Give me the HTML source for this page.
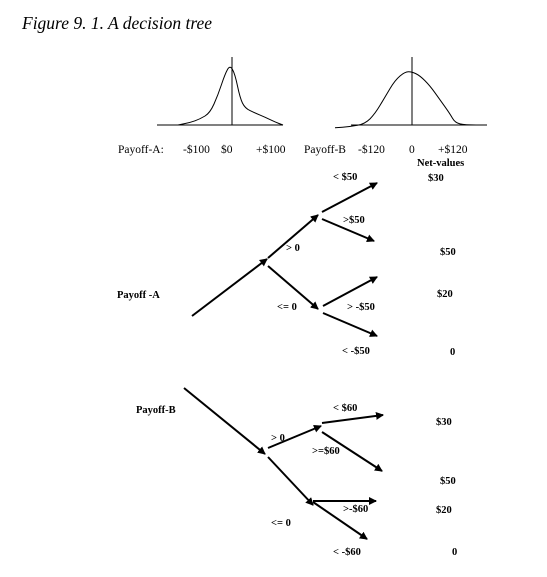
<!DOCTYPE html>
<html><head><meta charset="utf-8"><style>
body{margin:0;background:#fff;}
svg text{font-family:"Liberation Serif",serif;fill:#000;}
.b{font-weight:bold;font-size:10.5px;}
.r{font-size:11.5px;}
</style></head><body>
<svg id="chart" width="547" height="572" viewBox="0 0 547 572" xmlns="http://www.w3.org/2000/svg">
<defs><marker id="ah" markerWidth="8" markerHeight="8" refX="7" refY="4" orient="auto" markerUnits="userSpaceOnUse"><path d="M0,0 L8,4 L0,8 z" fill="#000"/></marker></defs>
<text x="22" y="29" font-size="17.5" font-style="italic">Figure 9. 1. A decision tree</text>
<g id="curves"></g>
<g id="tree" stroke="#000" stroke-width="2" fill="none"></g>
<g id="labels"></g>
</svg>
<script>
// Payoff distribution densities (relative heights)
const densA = [0,0.04,0.1,0.2,0.5,0.85,1.0,0.85,0.45,0.28,0.2,0.13,0.05,0];
const densAx = [178,190,200,210,218,225,230,235,240,245,255,265,275,283];
const densB = [-0.05,-0.03,0.02,0.2,0.5,0.8,0.95,0.95,0.88,0.7,0.45,0.2,0.04,0,0];
const densBx = [335,350,365,375,385,395,405,412,420,430,440,450,455,465,487];
const tickA = ["-$100","$0","+$100"];
const tickB = ["-$120","0","+$120"];
const outcomesA = ["< $50",">$50","> -$50","< -$50"];
const outcomesB = ["< $60",">=$60",">-$60","< -$60"];
const netA = ["$30","$50","$20","0"];
const netB = ["$30","$50","$20","0"];

const NS="http://www.w3.org/2000/svg";
const cv=document.getElementById('curves');
function mk(tag,attrs,parent){const e=document.createElementNS(NS,tag);for(const k in attrs)e.setAttribute(k,attrs[k]);parent.appendChild(e);return e;}
function yScale(v,h){return 125-v*h;}
function curve(xs,vs,h,name){
  let d="M"+xs[0]+","+yScale(vs[0],h);
  for(let i=1;i<xs.length;i++){const mx=(xs[i-1]+xs[i])/2;d+=" Q"+xs[i-1]+","+yScale(vs[i-1],h)+" "+mx+","+(yScale(vs[i-1],h)+yScale(vs[i],h))/2;}
  d+=" L"+xs[xs.length-1]+","+yScale(vs[vs.length-1],h);
  const p=mk('path',{d:d,stroke:'#000','stroke-width':1,fill:'none'},cv);
  
  
}
let a=mk('line',{x1:157,y1:125,x2:283,y2:125,stroke:'#000','stroke-width':1},cv);


a=mk('line',{x1:232,y1:57,x2:232,y2:125,stroke:'#000','stroke-width':1},cv);


a=mk('line',{x1:351,y1:125,x2:487,y2:125,stroke:'#000','stroke-width':1},cv);


a=mk('line',{x1:412,y1:57,x2:412,y2:125,stroke:'#000','stroke-width':1},cv);


curve(densAx,densA,60,'payoff-a-density');
curve(densBx,densB,56,'payoff-b-density');

const tr=document.getElementById('tree');
function arrow(x1,y1,x2,y2,name){
  const l=mk('line',{x1:x1,y1:y1,x2:x2,y2:y2,'marker-end':'url(#ah)'},tr);
  
  
}
arrow(192,316,267,259,'a-root-branch');
arrow(268,258,318,215,'a-positive-branch');
arrow(268,266,318,309,'a-nonpositive-branch');
arrow(322,212,377,183,'a-outcome-1');
arrow(322,219,374,241,'a-outcome-2');
arrow(323,306,377,277,'a-outcome-3');
arrow(323,313,377,336,'a-outcome-4');
arrow(184,388,265,454,'b-root-branch');
arrow(268,448,321,426,'b-positive-branch');
arrow(268,457,313,505,'b-nonpositive-branch');
arrow(322,423,383,415,'b-outcome-1');
arrow(322,432,382,471,'b-outcome-2');
arrow(313,501,376,501,'b-outcome-3');
arrow(313,502,367,539,'b-outcome-4');

const lb=document.getElementById('labels');
function txt(x,y,s,cls,name,anchor){
  const t=mk('text',{x:x,y:y,'class':cls},lb);
  if(anchor)t.setAttribute('text-anchor',anchor);
  t.textContent=s;
  
  
}
txt(118,153,"Payoff-A:","r","payoff-a-label");
const tAx=[183,221,256];
tickA.forEach((s,i)=>txt(tAx[i],153,s,"r","payoff-a-tick"));
txt(304,153,"Payoff-B","r","payoff-b-label");
const tBx=[358,409,438];
tickB.forEach((s,i)=>txt(tBx[i],153,s,"r","payoff-b-tick"));
txt(417,166,"Net-values","b","net-values-header");
txt(117,298,"Payoff -A","b","payoff-a-node-label");
txt(136,413,"Payoff-B","b","payoff-b-node-label");
txt(286,251,"> 0","b","a-gt-zero-label");
txt(277,310,"<= 0","b","a-le-zero-label");
const oAx=[333,343,347,342],oAy=[180,223,310,354];
outcomesA.forEach((s,i)=>txt(oAx[i],oAy[i],s,"b","a-outcome-label"));
const nAx=[428,440,437,450],nAy=[181,255,297,355];
netA.forEach((s,i)=>txt(nAx[i],nAy[i],s,"b","a-net-value"));
txt(271,441,"> 0","b","b-gt-zero-label");
txt(271,526,"<= 0","b","b-le-zero-label");
const oBx=[333,312,343,333],oBy=[411,454,512,555];
outcomesB.forEach((s,i)=>txt(oBx[i],oBy[i],s,"b","b-outcome-label"));
const nBx=[436,440,436,452],nBy=[425,484,513,555];
netB.forEach((s,i)=>txt(nBx[i],nBy[i],s,"b","b-net-value"));
</script>
</body></html>
